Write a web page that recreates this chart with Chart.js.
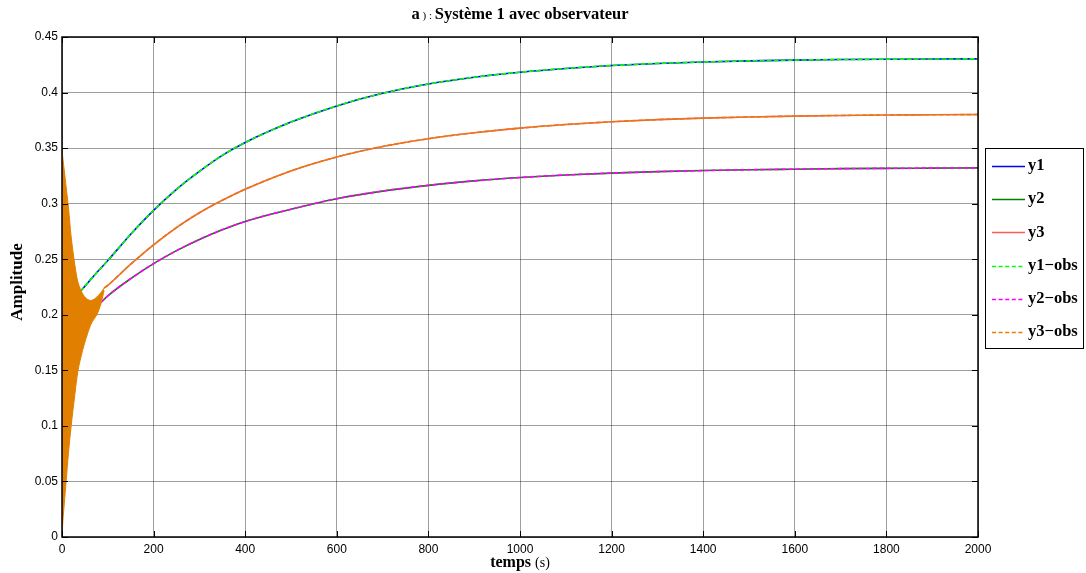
<!DOCTYPE html>
<html>
<head>
<meta charset="utf-8">
<script src="https://cdn.jsdelivr.net/npm/chart.js@4/dist/chart.umd.min.js"></script>
<style>
html,body{margin:0;padding:0;background:#fff;}
#wrap{width:1086px;height:573px;position:relative;}
</style>
</head>
<body>
<div id="wrap"><canvas id="c" width="1086" height="573"></canvas></div>
<script>
// ---- data ----
const titleParts = ['a', ' ) : ', 'Système 1 avec observateur'];
const xTitle = ['temps ', '(s)'];
const yTitle = 'Amplitude';
const legendLabels = ['y1', 'y2', 'y3', 'y1−obs', 'y2−obs', 'y3−obs'];

const timeY1 = [40, 60, 80, 100, 150, 200, 250, 300, 350, 400, 500, 600, 700, 800, 900, 1000, 1100, 1200, 1300, 1400, 1500, 1600, 1700, 1800, 1900, 2000];
const y1Values = [0.221, 0.2305, 0.2398, 0.2488, 0.2725, 0.294, 0.3129, 0.329, 0.3434, 0.355, 0.3734, 0.388, 0.3993, 0.4077, 0.4138, 0.4183, 0.4217, 0.4243, 0.4262, 0.4275, 0.4285, 0.4292, 0.4297, 0.430, 0.4302, 0.4303];

const timeY2 = [85, 100, 150, 200, 250, 300, 350, 400, 500, 600, 700, 800, 900, 1000, 1100, 1200, 1300, 1400, 1500, 1600, 1700, 1800, 1900, 2000];
const y2Values = [0.211, 0.217, 0.2325, 0.246, 0.2577, 0.2678, 0.2765, 0.284, 0.295, 0.3045, 0.3113, 0.3165, 0.3205, 0.3235, 0.3258, 0.3275, 0.3288, 0.3298, 0.3305, 0.331, 0.3315, 0.3318, 0.332, 0.3322];

const timeY3 = [92, 100, 150, 200, 250, 300, 350, 400, 500, 600, 700, 800, 900, 1000, 1100, 1200, 1300, 1400, 1500, 1600, 1700, 1800, 1900, 2000];
const y3Values = [0.224, 0.2265, 0.2455, 0.263, 0.2785, 0.2918, 0.303, 0.313, 0.3295, 0.342, 0.3515, 0.3585, 0.3638, 0.368, 0.3712, 0.3737, 0.3756, 0.377, 0.378, 0.3788, 0.3794, 0.3798, 0.380, 0.3802];

// envelope of the fast oscillation of y3-obs at the start
const timeBand = [0, 2, 5, 9, 14, 20, 28, 35, 45, 55, 65, 76, 85, 92];
const bandUpper = [0.35, 0.34, 0.33, 0.315, 0.297, 0.27, 0.245, 0.229, 0.219, 0.214, 0.213, 0.216, 0.220, 0.224];
const bandLower = [0, 0.015, 0.03, 0.05, 0.075, 0.1, 0.128, 0.15, 0.168, 0.182, 0.193, 0.2, 0.21, 0.222];

const xTicks = [0, 200, 400, 600, 800, 1000, 1200, 1400, 1600, 1800, 2000];
const yTicks = [0, 0.05, 0.1, 0.15, 0.2, 0.25, 0.3, 0.35, 0.4, 0.45];

// ---- styles ----
const colors = ['#0000ff', '#008000', '#ff5a5a', '#00ff00', '#ff00ff', '#e07f00'];
const dashes = [[], [], [], [5, 2], [5, 2], [5, 2]];
const pts = (t, v) => t.map((x, i) => ({x: x, y: v[i]}));

const lineDs = (label, t, v, idx, order) => ({
  label: label,
  data: pts(t, v),
  borderColor: colors[idx],
  backgroundColor: colors[idx],
  borderWidth: 1.6,
  borderDash: dashes[idx],
  pointRadius: 0,
  fill: false,
  cubicInterpolationMode: 'monotone',
  order: order,
  legendIndex: idx
});

const datasets = [
  lineDs(legendLabels[0], timeY1, y1Values, 0, 6),
  lineDs(legendLabels[1], timeY2, y2Values, 1, 6),
  lineDs(legendLabels[2], timeY3, y3Values, 2, 6),
  lineDs(legendLabels[3], timeY1, y1Values, 3, 2),
  lineDs(legendLabels[4], timeY2, y2Values, 4, 2),
  lineDs(legendLabels[5], timeY3, y3Values, 5, 2),
  {
    label: 'band-upper', data: pts(timeBand, bandUpper),
    borderColor: colors[5], backgroundColor: colors[5], borderWidth: 1,
    pointRadius: 0, fill: '+1', tension: 0.3, order: 1
  },
  {
    label: 'band-lower', data: pts(timeBand, bandLower),
    borderColor: colors[5], backgroundColor: colors[5], borderWidth: 1,
    pointRadius: 0, fill: false, tension: 0.3, order: 1
  }
];

const decor = {
  id: 'decor',
  afterDraw(chart) {
    const ctx = chart.ctx;
    const a = chart.chartArea;
    const xs = chart.scales.x, ys = chart.scales.y;
    ctx.save();
    // inward ticks
    ctx.strokeStyle = '#000';
    ctx.lineWidth = 1;
    ctx.beginPath();
    xTicks.forEach(v => {
      const px = Math.round(xs.getPixelForValue(v)) + 0.5;
      ctx.moveTo(px, a.bottom); ctx.lineTo(px, a.bottom - 6);
      ctx.moveTo(px, a.top); ctx.lineTo(px, a.top + 6);
    });
    yTicks.forEach(v => {
      const py = Math.round(ys.getPixelForValue(v)) + 0.5;
      ctx.moveTo(a.left, py); ctx.lineTo(a.left + 6, py);
      ctx.moveTo(a.right, py); ctx.lineTo(a.right - 6, py);
    });
    ctx.stroke();
    // box
    ctx.lineWidth = 1.5;
    ctx.strokeRect(a.left, a.top, a.right - a.left, a.bottom - a.top);

    // title
    const cx = (a.left + a.right) / 2;
    const f1 = 'bold 16.5px "Liberation Serif"';
    const f2 = '11px "Liberation Serif"';
    ctx.fillStyle = '#000';
    ctx.textBaseline = 'alphabetic';
    ctx.font = f1; const w0 = ctx.measureText(titleParts[0]).width;
    const w2 = ctx.measureText(titleParts[2]).width;
    ctx.font = f2; const w1 = ctx.measureText(titleParts[1]).width;
    let x = cx - (w0 + w1 + w2) / 2;
    ctx.textAlign = 'left';
    ctx.font = f1; ctx.fillText(titleParts[0], x, 19); x += w0;
    ctx.font = f2; ctx.fillText(titleParts[1], x, 19); x += w1;
    ctx.font = f1; ctx.fillText(titleParts[2], x, 19);

    // x title
    const g1 = 'bold 16px "Liberation Serif"';
    const g2 = '14px "Liberation Serif"';
    ctx.font = g1; const v0 = ctx.measureText(xTitle[0]).width;
    ctx.font = g2; const v1 = ctx.measureText(xTitle[1]).width;
    x = cx - (v0 + v1) / 2;
    ctx.font = g1; ctx.fillText(xTitle[0], x, 567); x += v0;
    ctx.font = g2; ctx.fillText(xTitle[1], x, 567);

    // y title
    ctx.save();
    ctx.translate(22, 282);
    ctx.rotate(-Math.PI / 2);
    ctx.textAlign = 'center';
    ctx.font = 'bold 17px "Liberation Serif"';
    ctx.fillText(yTitle, 0, 0);
    ctx.restore();

    // legend
    const lx = 985, ly = 148, lw = 98, lh = 200;
    ctx.fillStyle = '#fff';
    ctx.fillRect(lx, ly, lw, lh);
    ctx.strokeStyle = '#000';
    ctx.lineWidth = 1;
    ctx.strokeRect(lx + 0.5, ly + 0.5, lw, lh);
    ctx.font = 'bold 16.5px "Liberation Serif"';
    ctx.textAlign = 'left';
    ctx.textBaseline = 'middle';
    chart.data.datasets.filter(d => d.legendIndex !== undefined).forEach((d, i) => {
      const yy = 166 + i * 33.2;
      ctx.strokeStyle = d.borderColor;
      ctx.lineWidth = 1.3;
      ctx.setLineDash(d.borderDash.length ? [4, 2.6] : []);
      ctx.beginPath();
      ctx.moveTo(992, Math.round(yy) + 0.5);
      ctx.lineTo(1025, Math.round(yy) + 0.5);
      ctx.stroke();
      ctx.setLineDash([]);
      ctx.fillStyle = '#000';
      ctx.fillText(d.label, 1028, yy);
    });
    ctx.restore();
  }
};

new Chart(document.getElementById('c'), {
  type: 'line',
  data: {datasets: datasets},
  options: {
    responsive: false,
    animation: false,
    events: [],
    layout: {padding: {left: 0, top: 37, right: 108, bottom: 0}},
    plugins: {legend: {display: false}, title: {display: false}, tooltip: {enabled: false}},
    scales: {
      x: {
        type: 'linear', min: 0, max: 2000,
        afterBuildTicks: s => { s.ticks = xTicks.map(v => ({value: v})); },
        afterFit: s => { s.height = 36; },
        grid: {color: 'rgba(0,0,0,0.38)', lineWidth: 1, drawTicks: false},
        border: {display: false},
        ticks: {color: '#000', padding: 5, maxRotation: 0, autoSkip: false,
          callback: v => String(v),
          font: {family: '"Liberation Sans"', size: 12}}
      },
      y: {
        type: 'linear', min: 0, max: 0.45,
        afterBuildTicks: s => { s.ticks = yTicks.map(v => ({value: v})); },
        afterFit: s => { s.width = 62; },
        grid: {color: 'rgba(0,0,0,0.38)', lineWidth: 1, drawTicks: false},
        border: {display: false},
        ticks: {color: '#000', padding: 4, autoSkip: false,
          callback: v => String(+Number(v).toFixed(2)),
          font: {family: '"Liberation Sans"', size: 12}}
      }
    }
  },
  plugins: [decor]
});
</script>
</body>
</html>
